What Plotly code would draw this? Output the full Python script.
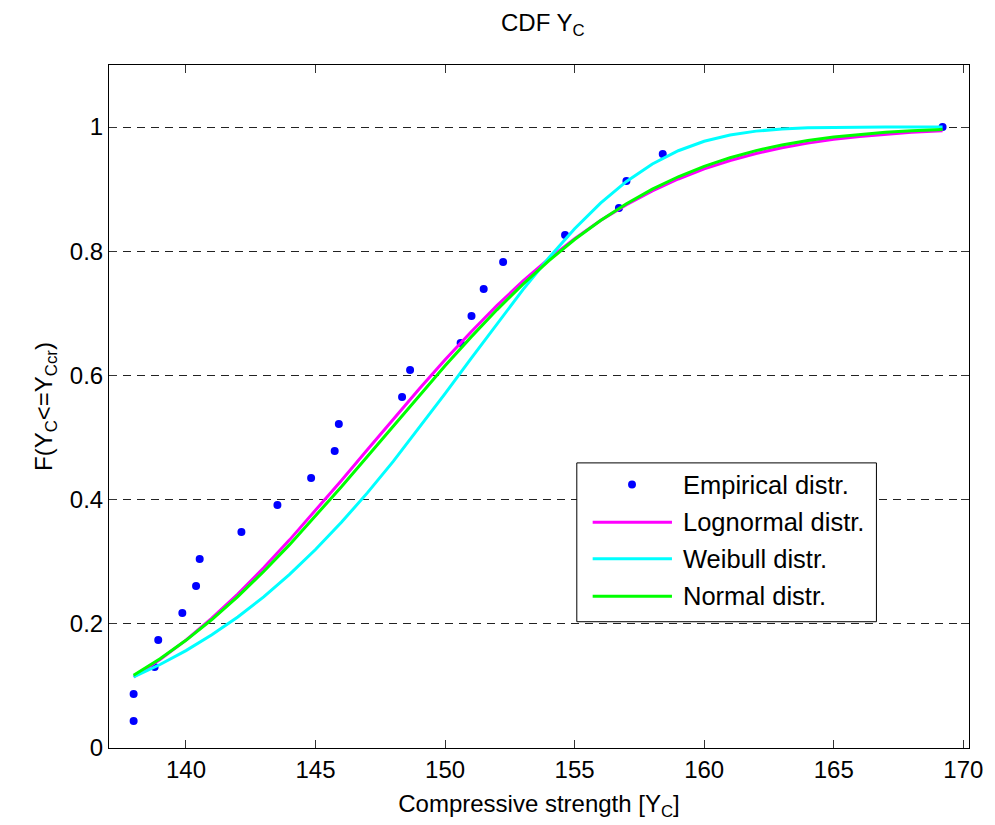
import plotly.graph_objects as go

# ---------------- data ----------------
emp_x = [137.98, 137.98, 138.79, 138.93, 139.86, 140.39, 140.53, 142.14, 143.53,
         144.83, 145.74, 145.90, 148.34, 148.65, 150.60, 151.02, 151.49, 152.24,
         154.63, 156.71, 157.00, 158.40, 169.20]
emp_y = [0.0435, 0.0870, 0.1304, 0.1739, 0.2174, 0.2609, 0.3043, 0.3478, 0.3913,
         0.4348, 0.4783, 0.5217, 0.5652, 0.6087, 0.6522, 0.6957, 0.7391, 0.7826,
         0.8261, 0.8696, 0.9130, 0.9565, 1.0000]

curve_x = [137.98, 139, 140, 141, 142, 143, 144, 145, 146, 147, 148, 149, 150, 151,
           152, 153, 154, 155, 156, 157, 158, 159, 160, 161, 162, 163, 164, 165,
           166, 167, 168, 169, 169.2]
lognormal_y = [0.1142, 0.1423, 0.1738, 0.2091, 0.2480, 0.2902, 0.3352, 0.3823,
               0.4309, 0.4802, 0.5295, 0.5781, 0.6251, 0.6701, 0.7124, 0.7518,
               0.7878, 0.8204, 0.8495, 0.8751, 0.8973, 0.9164, 0.9327, 0.9462,
               0.9575, 0.9667, 0.9742, 0.9802, 0.9849, 0.9886, 0.9915, 0.9937,
               0.9941]
weibull_y = [0.1147, 0.1345, 0.1568, 0.1823, 0.2111, 0.2434, 0.2796, 0.3196,
             0.3634, 0.4109, 0.4616, 0.5152, 0.5707, 0.6271, 0.6833, 0.7378,
             0.7892, 0.8362, 0.8776, 0.9125, 0.9406, 0.9619, 0.9772, 0.9873,
             0.9935, 0.9970, 0.9988, 0.9996, 0.9999, 1.0000, 1.0000, 1.0000,
             1.0000]
normal_y = [0.1170, 0.1436, 0.1734, 0.2069, 0.2438, 0.2843, 0.3275, 0.3733,
            0.4207, 0.4695, 0.5187, 0.5676, 0.6156, 0.6617, 0.7057, 0.7467,
            0.7846, 0.8189, 0.8496, 0.8766, 0.9000, 0.9200, 0.9368, 0.9507,
            0.9621, 0.9712, 0.9784, 0.9841, 0.9884, 0.9916, 0.9941, 0.9959,
            0.9962]

x_ticks = [140, 145, 150, 155, 160, 165, 170]
y_ticks = [0, 0.2, 0.4, 0.6, 0.8, 1.0]
y_tick_text = ["0", "0.2", "0.4", "0.6", "0.8", "1"]

series_names = ["Empirical distr.", "Lognormal distr.", "Weibull distr.", "Normal distr."]
series_colors = ["#0000FF", "#FF00FF", "#00FFFF", "#00FF00"]

FONT = "Liberation Sans, Arial, sans-serif"

# ---------------- figure ----------------
fig = go.Figure()
fig.add_trace(go.Scatter(x=emp_x, y=emp_y, mode="markers", name=series_names[0],
                         marker=dict(color=series_colors[0], size=8), showlegend=False))
for name, col, ys in zip(series_names[1:], series_colors[1:],
                         [lognormal_y, weibull_y, normal_y]):
    fig.add_trace(go.Scatter(x=curve_x, y=ys, mode="lines", name=name,
                             line=dict(color=col, width=3), showlegend=False))

# plot-area pixel geometry
L, R, T, B = 109, 976.7, 65, 748.7
W, H = R - L, B - T


def px(x):
    return (x - L) / W


def py(y):
    return (B - y) / H


# manual legend (box, swatches, labels)
shapes = [dict(type="rect", xref="paper", yref="paper",
               x0=px(581), x1=px(883.3), y0=py(622.3), y1=py(463.3),
               line=dict(color="black", width=1), fillcolor="white", layer="above")]
rows = [485, 522.7, 559.3, 596.7]
annotations = []
for i, (name, col) in enumerate(zip(series_names, series_colors)):
    yr = rows[i]
    if i == 0:
        shapes.append(dict(type="circle", xref="paper", yref="paper",
                           x0=px(632.7), x1=px(640.7), y0=py(489), y1=py(481),
                           line=dict(color=col, width=0), fillcolor=col, layer="above"))
    else:
        shapes.append(dict(type="line", xref="paper", yref="paper",
                           x0=px(597), x1=px(677), y0=py(yr), y1=py(yr),
                           line=dict(color=col, width=3), layer="above"))
    annotations.append(dict(text=name, xref="paper", yref="paper", x=px(686), y=py(yr),
                            xanchor="left", yanchor="middle", showarrow=False,
                            font=dict(family=FONT, size=25.5, color="black")))

fig.update_layout(
    width=995, height=825,
    margin=dict(l=L, r=995 - R, t=T, b=825 - B),
    paper_bgcolor="white", plot_bgcolor="white",
    font=dict(family=FONT, size=24, color="black"),
    title=dict(text="CDF Y<sub>C</sub>", x=(L + R) / 2 / 995, xanchor="center",
               y=1 - 14 / 825, yanchor="top", yref="container",
               font=dict(family=FONT, size=24, color="black")),
    shapes=shapes, annotations=annotations,
    showlegend=False,
)
fig.update_xaxes(range=[137.03, 170.22], tickvals=x_ticks, ticks="inside", ticklen=8,
                 tickcolor="#333333", showline=True, linecolor="black", linewidth=1,
                 mirror="ticks", showgrid=False, zeroline=False,
                 title=dict(text="Compressive strength [Y<sub>C</sub>]", standoff=13,
                            font=dict(size=24)),
                 tickfont=dict(size=24))
fig.update_yaxes(range=[0, 1.1], tickvals=y_ticks, ticktext=y_tick_text, ticks="inside",
                 ticklen=8, tickcolor="#333333", showline=True, linecolor="black",
                 linewidth=1, mirror="ticks", showgrid=True, gridcolor="#222222",
                 gridwidth=1, griddash="8px,6px", zeroline=False,
                 title=dict(text="F(Y<sub>C</sub>&lt;=Y<sub>Ccr</sub>)", standoff=10,
                            font=dict(size=24)),
                 tickfont=dict(size=24))

fig.write_html("out.html")
